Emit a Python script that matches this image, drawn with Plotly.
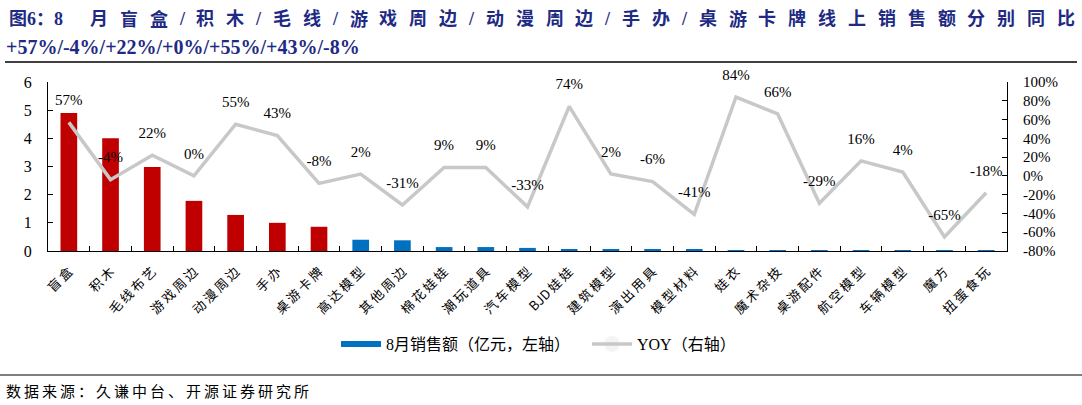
import plotly.graph_objects as go

categories = ["盲盒", "积木", "毛线布艺", "游戏周边", "动漫周边", "手办", "桌游卡牌",
              "高达模型", "其他周边", "棉花娃娃", "潮玩道具", "汽车模型", "BJD娃娃",
              "建筑模型", "演出用具", "模型材料", "娃衣", "魔术杂技", "桌游配件",
              "航空模型", "车辆模型", "魔方", "扭蛋食玩"]
sales = [4.9, 4.0, 2.98, 1.78, 1.28, 1.0, 0.86, 0.40, 0.38, 0.14, 0.14, 0.11, 0.04,
         0.04, 0.04, 0.04, 0.03, 0.03, 0.02, 0.01, 0.01, 0.005, 0.005]
yoy = [57, -4, 22, 0, 55, 43, -8, 2, -31, 9, 9, -33, 74, 2, -6, -41, 84, 66, -29,
       16, 4, -65, -18]
highlight_n = 7
left_ticks = [0, 1, 2, 3, 4, 5, 6]
right_ticks = [-80, -60, -40, -20, 0, 20, 40, 60, 80, 100]
right_ticktext = [f"{v}%" for v in right_ticks]

W, H = 1082, 405
L, R, T, B = 48, 1007, 82, 251

def px(x):
    return (x - L) / (R - L)

def py(y):
    return (B - y) / (B - T)

def spaced(s):
    # add thin spacing between CJK glyphs (keeps latin runs intact)
    out = ""
    for i, ch in enumerate(s):
        out += ch
        if i < len(s) - 1 and (ord(ch) > 0x2E80 or ord(s[i + 1]) > 0x2E80):
            out += "\u2009"
    return out

SERIF = "Liberation Serif, Noto Sans CJK SC"
CJK = "Noto Sans CJK SC"
RED = "#C00000"
BLUE = "#0070C0"
GRAY = "#C8C8C8"
NAVY = "#1E2A84"

bar_colors = [RED if i < highlight_n else BLUE for i in range(len(categories))]

fig = go.Figure()
fig.add_trace(go.Bar(
    x=categories, y=sales, marker=dict(color=bar_colors, line=dict(width=0)),
    width=0.4, showlegend=False, yaxis="y", hoverinfo="x+y"))
fig.add_trace(go.Scatter(
    x=[None], y=[None], mode="lines", line=dict(color=BLUE, width=6),
    name="8月销售额（亿元，左轴）", yaxis="y"))
fig.add_trace(go.Scatter(
    x=categories, y=yoy, mode="lines+markers+text", yaxis="y2",
    line=dict(color=GRAY, width=3.5),
    marker=dict(size=20, opacity=0, color=GRAY),
    text=[f"{v}%" for v in yoy], textposition="top center", cliponaxis=False,
    textfont=dict(family=SERIF, size=15, color="#000"),
    name="YOY（右轴）"))

fig.update_layout(
    width=W, height=H,
    margin=dict(l=L, r=W - R, t=T, b=H - B, pad=0, autoexpand=False),
    paper_bgcolor="white", plot_bgcolor="white",
    font=dict(family=SERIF, size=15, color="#000"),
    xaxis=dict(type="category", range=[-0.5, len(categories) - 0.5],
               tickvals=categories, ticktext=[spaced(c) for c in categories],
               showline=True, linecolor="#000", linewidth=1,
               ticks="inside", tickson="boundaries", ticklen=5, tickcolor="#000",
               tickangle=-45, tickfont=dict(family=CJK, size=13, color="#000"),
               ticklabelstandoff=7,
               showgrid=False, zeroline=False, automargin=False),
    yaxis=dict(range=[0, 6], tickvals=left_ticks, showline=True, linecolor="#000",
               linewidth=1, ticks="inside", ticklen=5, tickcolor="#000",
               showgrid=False, zeroline=False, ticklabelstandoff=12,
               tickfont=dict(family=SERIF, size=16), automargin=False),
    yaxis2=dict(range=[-80, 100], tickvals=right_ticks, ticktext=right_ticktext,
                overlaying="y", side="right", showline=True, linecolor="#000",
                linewidth=1, ticks="inside", ticklen=5, tickcolor="#000",
                showgrid=False, zeroline=False, ticklabelstandoff=12,
                tickfont=dict(family=SERIF, size=15), automargin=False),
    legend=dict(orientation="h", x=px(336), xanchor="left", y=py(344),
                yanchor="middle", font=dict(family=SERIF, size=16),
                itemwidth=40, entrywidth=196, entrywidthmode="pixels",
                traceorder="normal", bgcolor="rgba(0,0,0,0)"),
    showlegend=True,
)

# Title line 1: justified characters
fig.add_annotation(text="<b>图6：8</b>", xref="paper", yref="paper",
                   x=px(7), y=py(19), xanchor="left", yanchor="middle",
                   showarrow=False, font=dict(family=SERIF, size=18, color=NAVY))
chars1 = list("月盲盒/积木/毛线/游戏周边/动漫周边/手办/桌游卡牌线上销售额分别同比")
cw, sw = 18.0, 5.0
total = sum(sw if c == "/" else cw for c in chars1)
gap = (1075 - 90 - total) / (len(chars1) - 1)
xpos = 90.0
for c in chars1:
    w = sw if c == "/" else cw
    fig.add_annotation(text=f"<b>{c}</b>", xref="paper", yref="paper",
                       x=px(xpos + w / 2), y=py(19), xanchor="center", yanchor="middle",
                       showarrow=False, font=dict(family=SERIF, size=18, color=NAVY))
    xpos += w + gap

title2 = "+57%/-4%/+22%/+0%/+55%/+43%/-8%"
fig.add_annotation(text=f"<b>{title2}</b>", xref="paper", yref="paper",
                   x=px(4), y=py(47), xanchor="left", yanchor="middle",
                   showarrow=False, font=dict(family=SERIF, size=20, color=NAVY))
fig.add_annotation(text=spaced("数据来源：久谦中台、开源证券研究所"), xref="paper", yref="paper",
                   x=px(4), y=py(390), xanchor="left", yanchor="middle",
                   showarrow=False, font=dict(family=CJK, size=15, color="#000"))

fig.add_shape(type="line", xref="paper", yref="paper", x0=px(5), x1=px(1077),
              y0=py(62), y1=py(62), line=dict(color="#000", width=1.5))
fig.add_shape(type="line", xref="paper", yref="paper", x0=px(0), x1=px(1082),
              y0=py(375), y1=py(375), line=dict(color="#000", width=1))

fig.write_html("out.html", config={"displayModeBar": False},
               post_script="document.body.style.margin='0';")
